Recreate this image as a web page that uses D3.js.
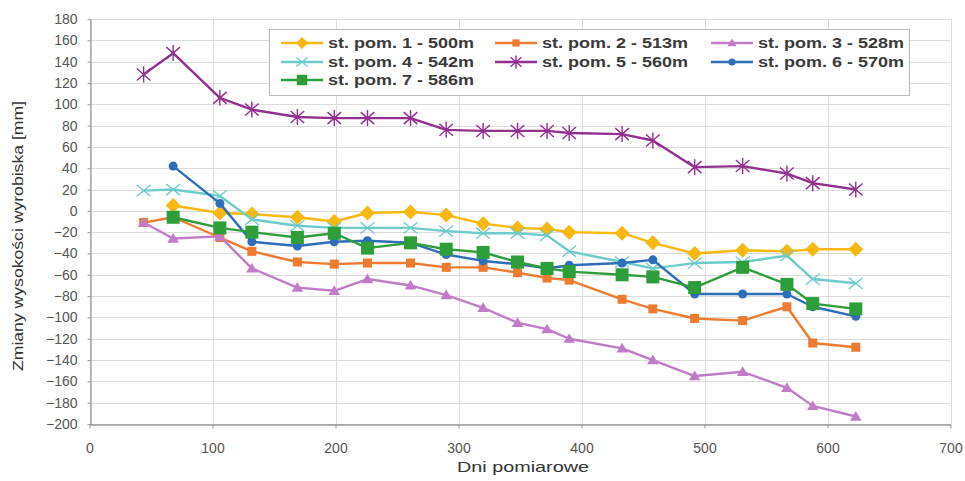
<!DOCTYPE html>
<html>
<head>
<meta charset="utf-8">
<script src="https://cdn.jsdelivr.net/npm/d3@7"></script>
<style>
  html, body { margin: 0; padding: 0; background: #fff; }
  svg { display: block; font-family: "Liberation Sans", Arial, sans-serif; }
</style>
</head>
<body>
<svg id="chart" width="965" height="481"></svg>
<script>
// Measurement days (x) shared by all stations
const days = [44, 68, 106, 132, 169, 199, 226, 261, 290, 320, 348, 372, 390, 433, 458, 492, 531, 567, 588, 623];

// Height change of the working [mm] per station (null = not measured)
const st1 = [null, 5, -2, -3, -6, -10, -2, -1, -4, -12, -16, -17, -20, -21, -30, -40, -37, -38, -36, -36];
const st2 = [-11, -6, -25, -38, -48, -50, -49, -49, -53, -53, -58, -63, -65, -83, -92, -101, -103, -90, -124, -128];
const st3 = [-11, -26, -24, -54, -72, -75, -64, -70, -79, -91, -105, -111, -120, -129, -140, -155, -151, -166, -183, -193];
const st4 = [19, 20, 14, -8, -14, -16, -16, -16, -19, -21, -21, -23, -38, -48, -54, -49, -48, -42, -64, -68];
const st5 = [128, 148, 106, 95, 88, 87, 87, 87, 76, 75, 75, 75, 73, 72, 66, 41, 42, 35, 26, 20];
const st6 = [null, 42, 7, -29, -33, -29, -28, -30, -41, -47, -50, -54, -51, -49, -46, -78, -78, -78, -90, -99];
const st7 = [null, -6, -16, -20, -25, -21, -35, -30, -36, -39, -48, -54, -57, -60, -62, -72, -53, -69, -87, -92];

const seriesNames = ["st. pom. 1 - 500m", "st. pom. 2 - 513m", "st. pom. 3 - 528m",
                     "st. pom. 4 - 542m", "st. pom. 5 - 560m", "st. pom. 6 - 570m",
                     "st. pom. 7 - 586m"];
const seriesValues = [st1, st2, st3, st4, st5, st6, st7];

const xTicks = [0, 100, 200, 300, 400, 500, 600, 700];
const yTicks = d3.range(-200, 181, 20);

const xTitle = "Dni pomiarowe";
const yTitle = "Zmiany wysokości wyrobiska [mm]";

// Styling per station: colour and marker kind
const styles = [
  { color: "#F7B90F", marker: "diamond", size: 7.5 },
  { color: "#EE7B30", marker: "square", size: 4.5 },
  { color: "#C07CC6", marker: "triangle", size: 5.5 },
  { color: "#6CCBCB", marker: "cross", size: 7 },
  { color: "#92308F", marker: "star", size: 8 },
  { color: "#2E6DB8", marker: "circle", size: 4.5 },
  { color: "#2D9E3A", marker: "square", size: 6.5 }
];

const svg = d3.select("#chart");
const margin = { left: 89.5, right: 14.5, top: 19, bottom: 57 };
const W = 965, H = 481;

const x = d3.scaleLinear().domain([0, 700]).range([margin.left, W - margin.right]);
const y = d3.scaleLinear().domain([-200, 180]).range([H - margin.bottom, margin.top]);

// Grid
const grid = svg.append("g");
grid.selectAll("line.h").data(yTicks).join("line")
  .attr("x1", x(0)).attr("x2", x(700))
  .attr("y1", d => Math.round(y(d)) + 0.5).attr("y2", d => Math.round(y(d)) + 0.5)
  .attr("stroke", "#dcdcdc").attr("stroke-width", 1);
grid.selectAll("line.v").data(xTicks).join("line")
  .attr("y1", y(-200)).attr("y2", y(180))
  .attr("x1", d => Math.round(x(d)) + 0.5).attr("x2", d => Math.round(x(d)) + 0.5)
  .attr("stroke", "#dcdcdc").attr("stroke-width", 1);

// Axes
const xAxis = svg.append("g")
  .attr("transform", `translate(0,${Math.round(y(-200)) + 0.5})`)
  .call(d3.axisBottom(x).tickValues(xTicks).tickSizeInner(4).tickSizeOuter(0).tickPadding(15));
const yAxis = svg.append("g")
  .attr("transform", `translate(${Math.round(x(0)) + 0.5},0)`)
  .call(d3.axisLeft(y).tickValues(yTicks).tickSizeInner(3).tickSizeOuter(0).tickPadding(10));
[xAxis, yAxis].forEach(a => {
  a.select(".domain").attr("stroke", "#999").attr("stroke-width", 1.3);
  a.selectAll(".tick line").attr("stroke", "#999");
  a.selectAll(".tick text").attr("fill", "#555").attr("font-size", 14)
    .attr("font-family", "'Liberation Sans', Arial, sans-serif");
});

// Titles
svg.append("text")
  .attr("x", 523).attr("y", 472)
  .attr("text-anchor", "middle").attr("font-size", 15).attr("fill", "#333")
  .attr("textLength", 132).attr("lengthAdjust", "spacingAndGlyphs")
  .text(xTitle);
svg.append("text")
  .attr("transform", "translate(23,236) rotate(-90)")
  .attr("text-anchor", "middle").attr("font-size", 15).attr("fill", "#333")
  .attr("textLength", 270).attr("lengthAdjust", "spacingAndGlyphs")
  .text(yTitle);

// Marker drawing
function drawMarker(g, kind, s, color) {
  if (kind === "diamond") {
    g.append("path").attr("d", `M0,${-s}L${s},0L0,${s}L${-s},0Z`).attr("fill", color);
  } else if (kind === "square") {
    g.append("rect").attr("x", -s).attr("y", -s).attr("width", 2 * s).attr("height", 2 * s).attr("fill", color);
  } else if (kind === "triangle") {
    g.append("path").attr("d", `M0,${-s}L${s * 1.05},${s * 0.75}L${-s * 1.05},${s * 0.75}Z`).attr("fill", color);
  } else if (kind === "circle") {
    g.append("circle").attr("r", s).attr("fill", color);
  } else if (kind === "cross") {
    g.append("path").attr("d", `M${-s},${-s * 0.8}L${s},${s * 0.8}M${-s},${s * 0.8}L${s},${-s * 0.8}`)
      .attr("stroke", color).attr("stroke-width", 1.3).attr("fill", "none");
  } else if (kind === "star") {
    g.append("path").attr("d", `M${-s * 0.85},${-s * 0.75}L${s * 0.85},${s * 0.75}M${-s * 0.85},${s * 0.75}L${s * 0.85},${-s * 0.75}M0,${-s}L0,${s}`)
      .attr("stroke", color).attr("stroke-width", 1.4).attr("fill", "none");
  }
}

// Series
const line = d3.line()
  .defined(d => d.v !== null)
  .x(d => x(d.d)).y(d => y(d.v));

seriesValues.forEach((vals, i) => {
  const st = styles[i];
  const pts = days.map((d, k) => ({ d, v: vals[k] }));
  const g = svg.append("g");
  g.append("path").datum(pts)
    .attr("d", line)
    .attr("fill", "none").attr("stroke", st.color).attr("stroke-width", 2.4)
    .attr("stroke-linejoin", "round");
  pts.filter(p => p.v !== null).forEach(p => {
    const m = g.append("g").attr("transform", `translate(${x(p.d)},${y(p.v)})`);
    drawMarker(m, st.marker, st.size, st.color);
  });
});

// Legend
const legend = svg.append("g");
legend.append("rect")
  .attr("x", 269.5).attr("y", 29.5).attr("width", 640).attr("height", 66)
  .attr("fill", "#fff").attr("stroke", "#bbb").attr("stroke-width", 1);
const colX = [281, 495, 711];
const rowY = [43, 62, 80];
seriesNames.forEach((name, i) => {
  const st = styles[i];
  const cx = colX[i % 3], cy = rowY[Math.floor(i / 3)];
  const item = legend.append("g").attr("transform", `translate(${cx},${cy})`);
  item.append("line").attr("x1", 0).attr("x2", 42).attr("y1", 0).attr("y2", 0)
    .attr("stroke", st.color).attr("stroke-width", 2.4);
  const m = item.append("g").attr("transform", "translate(21,0)");
  drawMarker(m, st.marker, st.size * 0.8, st.color);
  item.append("text").attr("x", 47).attr("y", 5)
    .attr("font-size", 14).attr("font-weight", "bold").attr("fill", "#3a3a3a")
    .attr("textLength", 146).attr("lengthAdjust", "spacingAndGlyphs")
    .text(name);
});
</script>
</body>
</html>
